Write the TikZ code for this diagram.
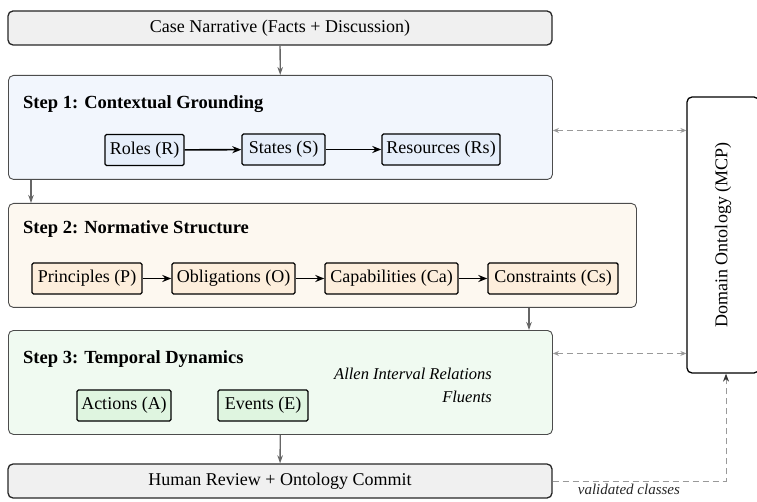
\documentclass[tikz,border=0pt]{standalone}
\usepackage{fontspec}
\setmainfont{Liberation Serif}
\usetikzlibrary{arrows.meta,calc}
\definecolor{boxgray}{HTML}{F0F0F0}
\definecolor{s1fill}{HTML}{F2F6FD}
\definecolor{s1in}{HTML}{E6EEFA}
\definecolor{s2fill}{HTML}{FDF8F0}
\definecolor{s2in}{HTML}{FDEEDC}
\definecolor{s3fill}{HTML}{F0FAF1}
\definecolor{s3in}{HTML}{DFF5E0}
\definecolor{flowgray}{HTML}{666666}
\definecolor{dashgray}{HTML}{999999}
\tikzset{
  x=1pt, y=-1pt,
  txt/.style={font=\fontsize{18}{21.6}\selectfont},
  endbox/.style={txt, draw=black!85, line width=1.3pt, fill=boxgray, rounded corners=5pt,
    minimum width=544pt, minimum height=34pt, inner sep=0pt},
  stepbox/.style={draw=black!70, line width=0.9pt, rounded corners=5pt,
    minimum width=544pt, minimum height=104pt, anchor=north west, inner sep=0pt},
  steptitle/.style={font=\fontsize{18.5}{22}\selectfont\bfseries, anchor=west, inner sep=0pt},
  item/.style={txt, draw=black, line width=1.4pt, rounded corners=1.5pt,
    minimum height=31pt, inner xsep=1pt, inner ysep=0pt},
  itemarrow/.style={-{Stealth[length=9pt,width=7pt]}, line width=1.6pt, black},
  flow/.style={-{Stealth[length=8pt,width=5.5pt]}, line width=1.3pt, flowgray},
  link/.style={{Stealth[length=6pt,width=5pt]}-{Stealth[length=6pt,width=5pt]}, line width=1pt,
    dashgray, dash pattern=on 6pt off 4pt},
  commit/.style={-{Stealth[length=8pt,width=6pt,color=black!80]}, line width=1pt, dashgray, dash pattern=on 6pt off 4pt},
}
\begin{document}
\begin{tikzpicture}
\useasboundingbox (0,0) rectangle (757,502);

% top and bottom boxes
\node[endbox] (top) at (280,28) {Case Narrative (Facts + Discussion)};
\node[endbox] (bot) at (280,481) {Human Review + Ontology Commit};

% step boxes
\node[stepbox, fill=s1fill, minimum height=104pt] (s1) at (8,75) {};
\node[stepbox, fill=s2fill, minimum width=628pt, minimum height=104pt] (s2) at (8,203) {};
\node[stepbox, fill=s3fill, minimum height=104pt] (s3) at (8,330) {};

\node[steptitle] (t1) at (23,104) {Step 1: Contextual Grounding};
\node[steptitle] (t2) at (23,229) {Step 2: Normative Structure};
\node[steptitle] (t3) at (23,359) {Step 3: Temporal Dynamics};

% step 1 items
\node[item, fill=s1in, minimum width=79pt] (roles) at (144.5,150) {Roles (R)};
\node[item, fill=s1in, minimum width=83pt] (states) at (283.5,149.5) {States (S)};
\node[item, fill=s1in, minimum width=118pt] (res) at (441,149.5) {Resources (Rs)};
\draw[itemarrow] (roles) -- (states);
\draw[itemarrow] (states) -- (res);

% step 2 items
\node[item, fill=s2in, minimum width=110pt] (prin) at (87,278.5) {Principles (P)};
\node[item, fill=s2in, minimum width=123pt] (obl) at (233.5,278.5) {Obligations (O)};
\node[item, fill=s2in, minimum width=133pt] (cap) at (391.5,278.5) {Capabilities (Ca)};
\node[item, fill=s2in, minimum width=130pt] (con) at (553,278.5) {Constraints (Cs)};
\draw[itemarrow] (prin) -- (obl);
\draw[itemarrow] (obl) -- (cap);
\draw[itemarrow] (cap) -- (con);

% step 3 items
\node[item, fill=s3in, minimum width=94pt] (act) at (124,405.5) {Actions (A)};
\node[item, fill=s3in, minimum width=90pt] (evt) at (263,405.5) {Events (E)};
\node[font=\fontsize{16.5}{23}\selectfont\itshape, anchor=east, align=right, inner sep=0pt]
  (allen) at (492,385) {Allen Interval Relations\\Fluents};

% domain ontology
\node[draw=black, line width=1.3pt, fill=white, rounded corners=5pt,
  minimum width=72pt, minimum height=276pt, inner sep=0pt] (dom) at (723,235) {};
\node[txt, rotate=90, inner sep=0pt] (domlbl) at (dom.center) {Domain Ontology (MCP)};

% flow arrows
\draw[flow] (top) -- (s1);
\draw[flow] ([xshift=23pt]s1.south west) -- ([xshift=23pt]s2.north west);
\draw[flow] ([xshift=521pt]s2.south west) -- ([xshift=521pt]s3.north west);
\draw[flow] (s3) -- (bot);

% ontology links
\draw[link] ([yshift=-3pt]s1.east) -- ([yshift=-3pt]s1.east -| dom.west);
\draw[link] ([yshift=29pt]s3.east) -- ([yshift=29pt]s3.east -| dom.west);
\draw[commit] (bot.east) -| node[pos=0.22, below=3pt, font=\fontsize{15}{17}\selectfont\itshape, text=black!85, inner sep=0pt] (vc) {validated classes} ([xshift=3pt]dom.south);
\end{tikzpicture}
\end{document}
